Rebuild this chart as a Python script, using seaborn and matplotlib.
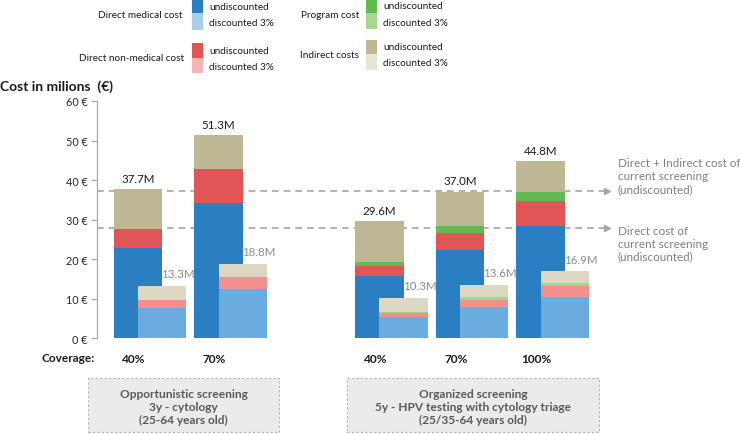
import matplotlib
matplotlib.use("Agg")
import matplotlib.pyplot as plt
from matplotlib.patches import Rectangle
import seaborn as sns
import pandas as pd
import numpy as np

# bar positions (undiscounted bar centre, in group units) and coverage labels
positions = [0, 1, 3, 4, 5]
coverage = ["40%", "70%", "40%", "70%", "100%"]

# undiscounted costs (million €)
undisc_medical = [22.8, 34.1, 15.8, 22.2, 28.5]
undisc_nonmedical = [4.9, 8.7, 2.5, 4.5, 6.3]
undisc_program = [0.0, 0.0, 1.1, 1.8, 2.3]
undisc_indirect = [10.0, 8.5, 10.2, 8.5, 7.7]

# discounted 3% costs (million €)
disc_medical = [7.7, 12.4, 5.3, 8.0, 10.4]
disc_nonmedical = [2.0, 3.1, 1.0, 1.7, 2.7]
disc_program = [0.0, 0.0, 0.4, 0.7, 1.0]
disc_indirect = [3.6, 3.3, 3.6, 3.2, 2.8]

# reference lines: current screening
current_direct_indirect = 37.2
current_direct = 27.9

yticks = [0, 10, 20, 30, 40, 50, 60]

colors_undisc = ["#2a7fc3", "#e05656", "#62bb52", "#bdb794"]
colors_disc = ["#6aacdf", "#f29090", "#9ed68a", "#dcd8c3"]
legend_disc = ["#a9cdea", "#f6b4b4", "#a6d890", "#e7e5d6"]

W, H = 740, 435
sns.set_theme(style="ticks")
plt.rcParams["font.family"] = ["Lato", "DejaVu Sans"]

fig = plt.figure(figsize=(W / 100, H / 100), dpi=100)


def fx(px):
    return px / W


def fy(py):
    return 1 - py / H


# axis geometry in pixels
y0px, y60px = 339.3, 102
axis_px, x0px, unit = 97, 138, 80.5
ax = fig.add_axes([fx(axis_px), fy(y0px), (W - axis_px) / W, (y0px - y60px) / H])

undisc = pd.DataFrame({"pos": positions, "medical": undisc_medical,
                       "nonmedical": undisc_nonmedical, "program": undisc_program,
                       "indirect": undisc_indirect})
disc = pd.DataFrame({"pos": [p + 0.3 for p in positions], "medical": disc_medical,
                     "nonmedical": disc_nonmedical, "program": disc_program,
                     "indirect": disc_indirect})
layers = ["medical", "nonmedical", "program", "indirect"]

for df, cols in [(undisc, colors_undisc), (disc, colors_disc)]:
    bottom = np.zeros(len(df))
    for col, c in zip(layers, cols):
        sns.barplot(data=df, x="pos", y=col, native_scale=True, width=0.6,
                    color=c, saturation=1, bottom=bottom, errorbar=None,
                    linewidth=0, edgecolor="none", ax=ax, zorder=2)
        bottom = bottom + df[col].to_numpy()
    df["total"] = bottom

for x, t in zip(undisc["pos"], undisc["total"]):
    ax.text(x, t + 1.4, f"{t:.1f}M", ha="center", va="bottom", fontsize=8.3,
            color="#1a1a1a")
for x, t in zip(disc["pos"], disc["total"]):
    ax.text(x + 0.2, t + 1.7, f"{t:.1f}M", ha="center", va="bottom", fontsize=8.3,
            color="#8c8c8c")

xl = (axis_px - x0px) / unit
xr = (W - x0px) / unit
ax.set_xlim(xl, xr)
ax.set_ylim(0, 60)

# dashed reference lines with arrows
ref_texts = ["Direct + Indirect cost of\ncurrent screening\n(undiscounted)",
             "Direct cost of\ncurrent screening\n(undiscounted)"]
for yv, txt, va_off in [(current_direct_indirect, ref_texts[0], 3.9),
                        (current_direct, ref_texts[1], -3.9)]:
    ax.plot([xl, 5.8], [yv, yv], ls=(0, (4, 3)), color="#a6a6a6", lw=1.2, zorder=1)
    ax.plot(5.83, yv, marker=">", ms=5, color="#a6a6a6", zorder=1, clip_on=False)
    ax.text(5.96, yv + va_off, txt, ha="left", va="center", fontsize=8.4,
            color="#7f7f7f", linespacing=1.2)

ax.set_yticks(yticks)
ax.set_yticklabels([f"{v} €" for v in yticks], fontsize=7.8, color="#262626")
ax.set_xticks([])
ax.set_xlabel("")
ax.set_ylabel("")
for s in ["top", "right", "bottom"]:
    ax.spines[s].set_visible(False)
ax.spines["left"].set_color("#a6a6a6")
ax.spines["left"].set_linewidth(0.9)
ax.tick_params(axis="y", length=4, color="#a6a6a6", width=0.9, pad=3)

# titles and coverage labels
fig.text(fx(0), fy(87), "Cost in milions  (€)", fontsize=10, fontweight="bold",
         color="#1a1a1a", ha="left", va="center")
fig.text(fx(42), fy(359), "Coverage:", fontsize=8.6, fontweight="bold",
         color="#1a1a1a", ha="left", va="center")
for p, c in zip(positions, coverage):
    fig.text(fx(x0px + (p - 0.05) * unit), fy(360), c, fontsize=8.6,
             fontweight="bold", color="#1a1a1a", ha="center", va="center")

# strategy boxes
boxes = [(88, 279, "Opportunistic screening\n3y - cytology\n(25-64 years old)"),
         (347, 599, "Organized screening\n5y - HPV testing with cytology triage\n(25/35-64 years old)")]
for x1, x2, txt in boxes:
    fig.add_artist(Rectangle((fx(x1), fy(433)), (x2 - x1) / W, (433 - 379) / H,
                             transform=fig.transFigure, facecolor="#ebebeb",
                             edgecolor="#b3b3b3", lw=0.8, ls=(0, (2, 2))))
    fig.text(fx((x1 + x2) / 2), fy(407.5), txt, ha="center", va="center",
             fontsize=8.6, fontweight="bold", color="#595959", linespacing=1.25)

# legend
legend_items = [
    ("Direct medical cost", 183, 192, 15.7, 1, 14.3, 30.7, 0),
    ("Direct non-medical cost", 184, 192, 58.3, 44, 59, 73.7, 1),
    ("Program cost", 359, 366, 15.7, 0, 14.3, 29.7, 2),
    ("Indirect costs", 359, 366, 56, 40.7, 55, 70.7, 3),
]
for name, tx, sx, ty, top, mid, bot, k in legend_items:
    fig.text(fx(tx), fy(ty), name, ha="right", va="center", fontsize=7.2,
             color="#1a1a1a")
    fig.add_artist(Rectangle((fx(sx), fy(mid)), 10.5 / W, (mid - top) / H,
                             transform=fig.transFigure, facecolor=colors_undisc[k],
                             edgecolor="none"))
    fig.add_artist(Rectangle((fx(sx), fy(bot)), 10.5 / W, (bot - mid) / H,
                             transform=fig.transFigure, facecolor=legend_disc[k],
                             edgecolor="none"))
    fig.text(fx(sx + 17), fy((top + mid) / 2 - 0.5), "undiscounted", ha="left",
             va="center", fontsize=7.2, color="#1a1a1a")
    fig.text(fx(sx + 17), fy((mid + bot) / 2 + 1), "discounted 3%", ha="left",
             va="center", fontsize=7.2, color="#1a1a1a")

fig.savefig("out.png", dpi=100)
